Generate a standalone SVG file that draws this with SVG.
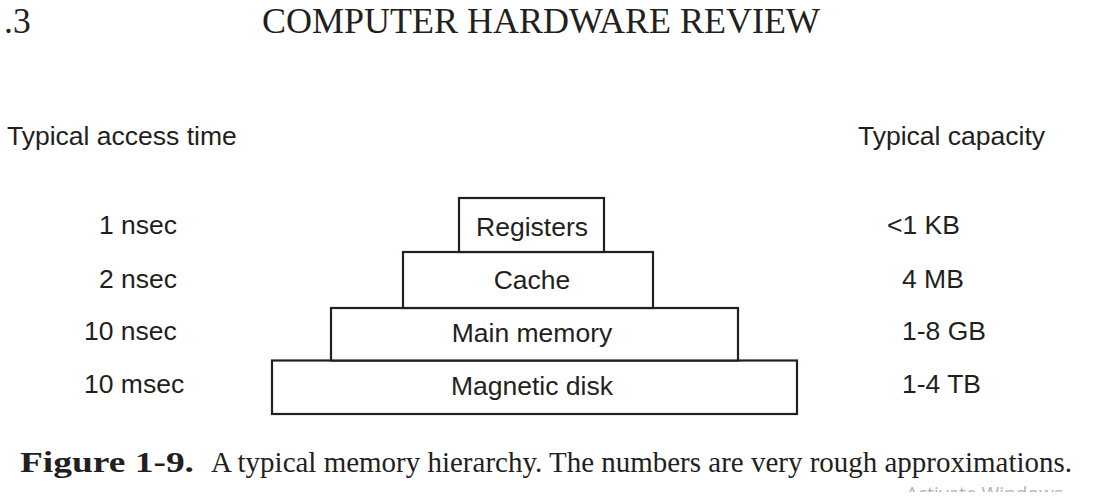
<svg xmlns="http://www.w3.org/2000/svg" width="1097" height="504" viewBox="0 0 1097 504">
<style>
  .bg { fill: #ffffff; }
  .box { fill: #ffffff; stroke: #231f20; stroke-width: 2.2; }
  .sans { font-family: "Liberation Sans", Arial, sans-serif; font-size: 26.5px; fill: #231f20; }
  .mid { text-anchor: middle; }
  .serif { font-family: "Liberation Serif", "Times New Roman", serif; fill: #231f20; }
  .wm { font-family: "Open Sans", "Noto Sans", sans-serif; font-size: 19px; fill: #b4b4b4; }
</style>
<defs>
  <clipPath id="wmclip"><rect x="880" y="484" width="217" height="8"/></clipPath>
</defs>
<rect class="bg" x="0" y="0" width="1097" height="504"/>

<g id="header">
  <text class="serif" x="4" y="33" font-size="35.5">.3</text>
  <text class="serif" x="262" y="33" font-size="35.5" textLength="558" lengthAdjust="spacingAndGlyphs">COMPUTER HARDWARE REVIEW</text>
</g>

<g id="column-headings">
  <text class="sans" x="7" y="145">Typical access time</text>
  <text class="sans" x="858" y="145">Typical capacity</text>
</g>

<g id="access-times">
  <text class="sans" x="99" y="234">1 nsec</text>
  <text class="sans" x="99" y="288">2 nsec</text>
  <text class="sans" x="84" y="340">10 nsec</text>
  <text class="sans" x="84" y="393">10 msec</text>
</g>

<g id="capacities">
  <text class="sans" x="887" y="234">&lt;1 KB</text>
  <text class="sans" x="902" y="288">4 MB</text>
  <text class="sans" x="902" y="340">1-8 GB</text>
  <text class="sans" x="902" y="393">1-4 TB</text>
</g>

<g id="connectors"></g>

<g id="node-disk">
  <rect class="box" x="272" y="360.5" width="525" height="53.5"/>
  <text class="sans mid" x="532" y="395">Magnetic disk</text>
</g>
<g id="node-main">
  <rect class="box" x="331" y="308" width="407" height="52.5"/>
  <text class="sans mid" x="532" y="342">Main memory</text>
</g>
<g id="node-cache">
  <rect class="box" x="403" y="252" width="250" height="56"/>
  <text class="sans mid" x="532" y="289">Cache</text>
</g>
<g id="node-registers">
  <rect class="box" x="459" y="198" width="145" height="54"/>
  <text class="sans mid" x="532" y="236">Registers</text>
</g>

<g id="caption">
  <text class="serif" x="20" y="472" font-size="30" font-weight="bold" textLength="174" lengthAdjust="spacingAndGlyphs">Figure 1-9.</text>
  <text class="serif" x="211" y="472" font-size="29" textLength="861" lengthAdjust="spacingAndGlyphs">A typical memory hierarchy. The numbers are very rough approximations.</text>
</g>
<g id="watermark">
  <text class="wm" x="906" y="500" clip-path="url(#wmclip)" textLength="157" lengthAdjust="spacingAndGlyphs">Activate Windows</text>
</g>
</svg>
